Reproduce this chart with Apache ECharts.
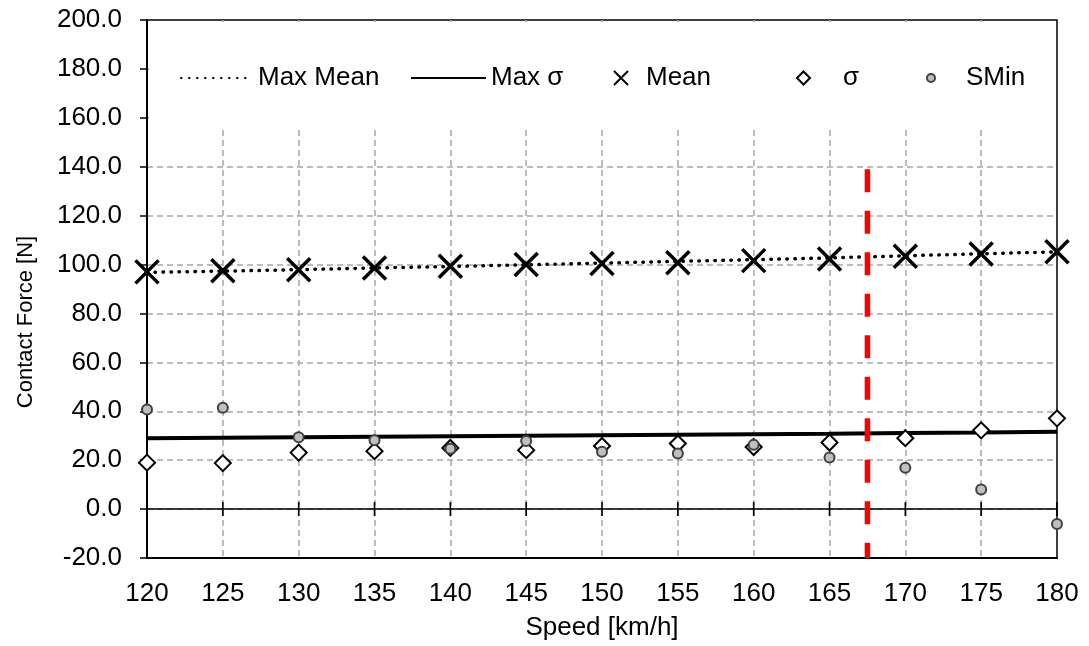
<!DOCTYPE html>
<html>
<head>
<meta charset="utf-8">
<script src="https://cdn.jsdelivr.net/npm/echarts@6/dist/echarts.min.js"></script>
<style>
  html, body { margin: 0; padding: 0; background: #fff; }
  #chart { width: 1089px; height: 646px; }
</style>
</head>
<body>
<div id="chart"></div>
<script>
// Contact force statistics versus running speed
const speeds   = [120, 125, 130, 135, 140, 145, 150, 155, 160, 165, 170, 175, 180];
const maxMean  = [96.8, 97.3, 97.9, 98.6, 99.2, 99.9, 100.6, 101.3, 102.0, 102.7, 103.6, 104.4, 105.2];
const maxSigma = [29.0, 29.2, 29.4, 29.6, 29.8, 30.0, 30.2, 30.4, 30.6, 30.8, 31.1, 31.3, 31.6];
const mean     = [97.0, 97.5, 97.9, 98.6, 99.3, 100.0, 100.4, 100.7, 101.6, 102.3, 103.4, 104.3, 105.2];
const sigma    = [19.0, 18.8, 23.1, 23.7, 25.0, 24.1, 25.8, 26.8, 25.4, 27.2, 29.0, 32.2, 37.1];
const sMin     = [40.7, 41.4, 29.4, 28.1, 24.7, 27.8, 23.4, 22.7, 26.3, 21.1, 16.9, 8.0, -6.1];

// speed limit marker (vertical dashed red line)
const limitSpeed = 167.5;
const limitForce = [139, -20];

const FONT = '"Liberation Sans", Arial, sans-serif';
const pair = (ys) => speeds.map((s, i) => [s, ys[i]]);
const crossPath = 'path://M0,0L10,10M10,0L0,10';

const chart = echarts.init(document.getElementById('chart'), null, { renderer: 'canvas' });

const legendText = { fontFamily: FONT, fontSize: 26, color: '#000' };
const legendBase = { top: 60, itemGap: 0, selectedMode: false, textStyle: legendText };
const withGap = (gap) => Object.assign({}, legendText, { padding: [0, 0, 0, gap] });

chart.setOption({
  animation: false,
  backgroundColor: '#fff',
  grid: {
    left: 147, right: 32, top: 20, bottom: 88,
    show: true, borderColor: '#000', borderWidth: 1.5, backgroundColor: 'transparent'
  },
  graphic: [{
    // plain backdrop behind the legend row
    type: 'rect', z: 1, silent: true,
    shape: { x: 149, y: 22, width: 906, height: 105 },
    style: { fill: '#fff' }
  }],
  legend: [
    Object.assign({}, legendBase, {
      left: 175, itemWidth: 72, itemHeight: 14, itemStyle: { opacity: 0 },
      data: ['Max Mean']
    }),
    Object.assign({}, legendBase, {
      left: 405, itemWidth: 75, itemHeight: 14, itemStyle: { opacity: 0 },
      data: ['Max σ']
    }),
    Object.assign({}, legendBase, {
      left: 608, itemWidth: 14, itemHeight: 14, textStyle: withGap(13),
      data: ['Mean']
    }),
    Object.assign({}, legendBase, {
      left: 791, itemWidth: 13, itemHeight: 13, textStyle: withGap(28),
      data: ['σ']
    }),
    Object.assign({}, legendBase, {
      left: 921, itemWidth: 8, itemHeight: 8, textStyle: withGap(26),
      data: ['SMin']
    })
  ],
  xAxis: [{
    type: 'value', min: 120, max: 180, interval: 5,
    name: 'Speed [km/h]', nameLocation: 'middle', nameGap: 57,
    nameTextStyle: { fontFamily: FONT, fontSize: 26, color: '#000' },
    axisLine: { onZero: false, lineStyle: { color: '#000', width: 2 } },
    axisTick: { show: false },
    axisLabel: { fontFamily: FONT, fontSize: 26, color: '#000', margin: 23 },
    splitLine: { show: true, showMinLine: false, showMaxLine: false,
                 lineStyle: { color: '#a6a6a6', width: 1.5, type: [6, 4] } }
  }, {
    // zero line
    type: 'value', min: 120, max: 180, interval: 5, position: 'bottom',
    axisLine: { onZero: true, onZeroAxisIndex: 0, lineStyle: { color: '#000', width: 1.5 } },
    axisTick: { show: false }, axisLabel: { show: false }, splitLine: { show: false }
  }],
  yAxis: {
    type: 'value', min: -20, max: 200, interval: 20,
    name: 'Contact Force [N]', nameLocation: 'middle', nameGap: 110, nameRotate: 90,
    nameTextStyle: { fontFamily: FONT, fontSize: 22, color: '#000', padding: [0, 66, 0, 0] },
    axisLine: { show: true, onZero: false, lineStyle: { color: '#000', width: 2 } },
    axisTick: { show: true, length: 7, lineStyle: { color: '#000', width: 1.5 } },
    axisLabel: { fontFamily: FONT, fontSize: 26, color: '#000', margin: 25,
                 formatter: (v) => v.toFixed(1) },
    splitLine: { show: true, showMinLine: false, showMaxLine: false,
                 lineStyle: { color: '#a6a6a6', width: 1.5, type: [6, 4] } }
  },
  series: [
    {
      // cross tick marks on the zero line, one per speed step
      name: 'zero ticks', type: 'scatter', silent: true, xAxisIndex: 0,
      data: speeds.map((s) => [s, 0]), symbol: 'rect', symbolSize: [1.6, 14],
      itemStyle: { color: '#000', opacity: 1 }, z: 2
    },
    {
      name: 'Max Mean', type: 'line', data: pair(maxMean), showSymbol: false, symbol: 'none',
      lineStyle: { color: '#000', width: 3.5, type: [0.5, 7.5], cap: 'round' },
      itemStyle: { color: '#000' }, z: 3
    },
    {
      name: 'Max σ', type: 'line', data: pair(maxSigma), showSymbol: false, symbol: 'none',
      lineStyle: { color: '#000', width: 4 }, itemStyle: { color: '#000' }, z: 3
    },
    {
      name: 'Mean', type: 'scatter', data: pair(mean), symbol: crossPath, symbolSize: 23,
      itemStyle: { color: 'transparent', borderColor: '#000', borderWidth: 3.5, opacity: 1 }, z: 5
    },
    {
      name: 'σ', type: 'scatter', data: pair(sigma), symbol: 'diamond', symbolSize: 16,
      itemStyle: { color: '#fff', borderColor: '#000', borderWidth: 2, opacity: 1 }, z: 4
    },
    {
      name: 'SMin', type: 'scatter', data: pair(sMin), symbol: 'circle', symbolSize: 10,
      itemStyle: { color: '#bfbfbf', borderColor: '#404040', borderWidth: 2, opacity: 1 }, z: 6
    },
    {
      name: 'Limit', type: 'line', silent: true, showSymbol: false, symbol: 'none',
      data: limitForce.map((f) => [limitSpeed, f]),
      lineStyle: { color: '#ff0000', width: 5.5, type: [23, 18.5] }, z: 7
    }
  ]
});
</script>
</body>
</html>
